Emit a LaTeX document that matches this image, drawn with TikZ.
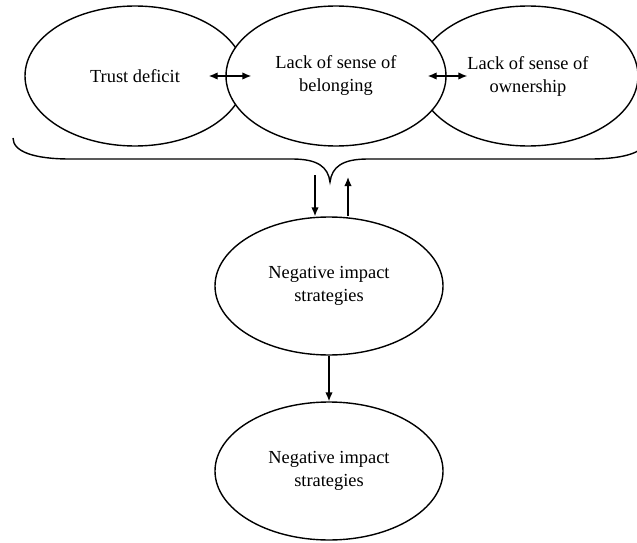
\documentclass[tikz,border=0pt]{standalone}
\usepackage{fontspec}
\setmainfont{Liberation Serif}
\usetikzlibrary{shapes.geometric,arrows.meta}

\begin{document}
\begin{tikzpicture}
		[x=1pt,y=1pt,
		oval/.style={ellipse,draw=black,fill=white,line width=1.4pt,inner sep=0pt,
			minimum width=220pt,minimum height=140pt,align=center,
			font=\fontsize{18.4}{23}\selectfont},
		lowoval/.style={oval,minimum width=228pt,minimum height=138pt},
		link/.style={line width=1.4pt,{Latex[length=9pt,width=7.5pt]}-{Latex[length=9pt,width=7.5pt]}},
		flow/.style={line width=1.4pt,-{Latex[length=9pt,width=7.5pt]}},]
		\useasboundingbox (0,0) rectangle (637,542);
		\clip (0,0) rectangle (637,542);
		
		\node[oval] (trust) at (135,466){Trust deficit};
		\node[oval] (owner) at (528,466){Lack of sense of\\ownership};
		\node[oval] (belong) at (336,466){Lack of sense of\\belonging};
		
		\node[lowoval] (neg1) at (329,256){Negative impact\\strategies};
		\node[lowoval] (neg2) at (329,71){Negative impact\\strategies};
		
		\draw[link] ([xshift=-37pt]trust.east) -- ([xshift=26pt]belong.west);
		\draw[link] ([xshift=-19pt]belong.east) -- ([xshift=50pt]owner.west);
		
		% brace under the three ovals
		\coordinate (tip) at (330,360);
		\draw[line width=1.4pt] (13,404) .. controls (13,390) and (35,383) .. (70,383) -- (292,383)
			.. controls (318,383) and (328,375) .. (tip)
			.. controls (332,375) and (342,383) .. (368,383) -- (590,383)
			.. controls (625,383) and (647,390) .. (647,404);
		
		\draw[flow] ([shift={(-15pt,7pt)}]tip) -- ([xshift=-14pt]neg1.north);
		\draw[flow] ([xshift=19pt]neg1.north) -- ([shift={(18pt,5pt)}]tip);
		\draw[flow] (neg1.south) -- (neg2.north);
		
	\end{tikzpicture}
\end{document}
